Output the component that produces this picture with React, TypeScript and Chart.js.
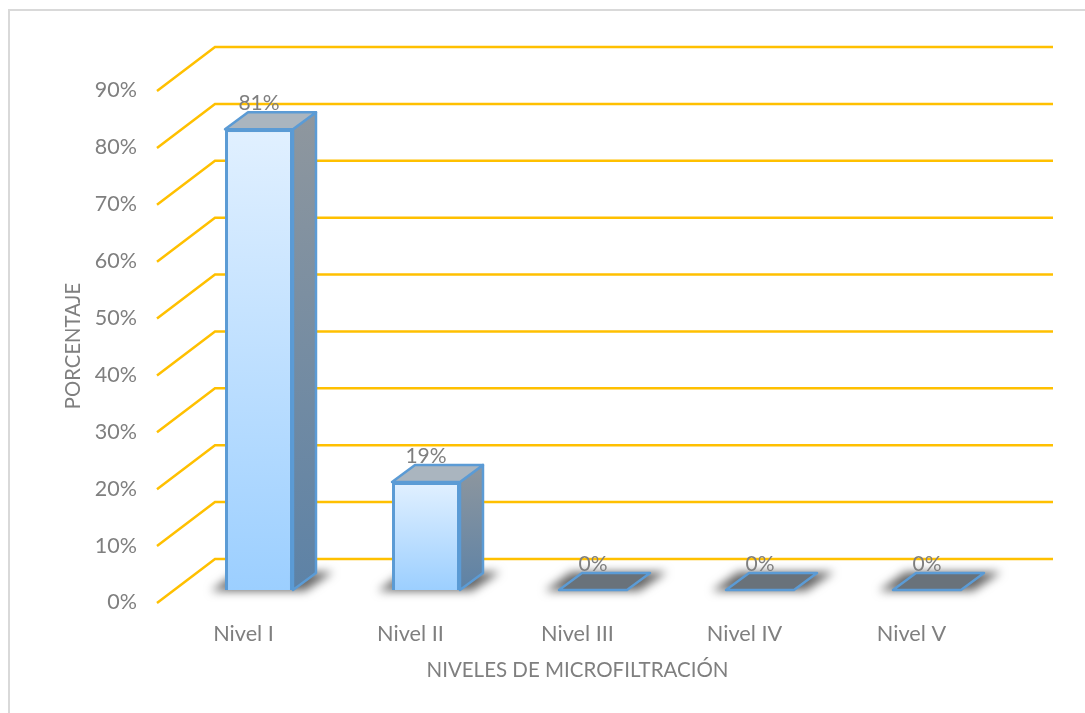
import React, { useEffect, useRef } from "react";
import { Chart, registerables } from "chart.js";

Chart.register(...registerables);

const categories = ["Nivel I", "Nivel II", "Nivel III", "Nivel IV", "Nivel V"];
const percentages = [81, 19, 0, 0, 0];
const xAxisTitle = "NIVELES DE MICROFILTRACIÓN";
const yAxisTitle = "PORCENTAJE";

const FONT = "Lato, Carlito, sans-serif";
const TEXT = "#7f7f7f";
const GRID = "#ffc000";
const EDGE = "#5b9bd5";
const WALL = { corner: 55, end: 58, dy: -43 };
const BAR_PLANE = { dx: 15.5, dy: -12 };
const BAR_DEPTH = { dx: 23, dy: -17 };

const perspective3D = {
  id: "perspective3D",
  beforeDatasetsDraw(chart: any) {
    const { ctx, chartArea, scales } = chart;
    const y = scales.y;
    // Wall and side-wall gridlines
    ctx.save();
    ctx.strokeStyle = GRID;
    ctx.lineWidth = 2.5;
    ctx.lineJoin = "miter";
    for (const tick of y.ticks) {
      const py = y.getPixelForValue(tick.value);
      ctx.beginPath();
      ctx.moveTo(chartArea.left - 3, py + 1);
      ctx.lineTo(chartArea.left + WALL.corner, py + WALL.dy);
      ctx.lineTo(chartArea.right + WALL.end, py + WALL.dy);
      ctx.stroke();
    }
    ctx.restore();
    // Soft floor shadows, one per bar
    const meta = chart.getDatasetMeta(0);
    const base = y.getPixelForValue(0) + BAR_PLANE.dy;
    meta.data.forEach((bar: any) => {
      const half = bar.width / 2;
      const cx = bar.x + BAR_PLANE.dx;
      const l = cx - half;
      const r = cx + half;
      ctx.save();
      ctx.shadowColor = "rgba(0,0,0,0.6)";
      ctx.shadowBlur = 10;
      ctx.shadowOffsetX = 2000;
      ctx.fillStyle = "#000";
      ctx.beginPath();
      ctx.moveTo(l - 14 - 2000, base + 1);
      ctx.lineTo(l + 12 - 2000, base - 18);
      ctx.lineTo(r + 40 - 2000, base - 18);
      ctx.lineTo(r + 12 - 2000, base + 1);
      ctx.closePath();
      ctx.fill();
      ctx.restore();
    });
    // Front faces sit forward of the wall by a fixed offset
    ctx.save();
    ctx.translate(BAR_PLANE.dx, BAR_PLANE.dy);
  },
  afterDatasetsDraw(chart: any) {
    const { ctx, scales } = chart;
    ctx.restore();
    const meta = chart.getDatasetMeta(0);
    const y = scales.y;
    const baseY = y.getPixelForValue(0) + BAR_PLANE.dy;
    meta.data.forEach((bar: any, i: number) => {
      const half = bar.width / 2;
      const cx = bar.x + BAR_PLANE.dx;
      const l = cx - half;
      const r = cx + half;
      const t = bar.y + BAR_PLANE.dy;
      const { dx, dy } = BAR_DEPTH;
      ctx.save();
      ctx.strokeStyle = EDGE;
      ctx.lineWidth = 2.5;
      ctx.lineJoin = "round";
      if (percentages[i] > 0) {
        const side = ctx.createLinearGradient(0, t + dy, 0, baseY);
        side.addColorStop(0, "#8f979e");
        side.addColorStop(1, "#5d82a6");
        ctx.fillStyle = side;
        ctx.beginPath();
        ctx.moveTo(r, t);
        ctx.lineTo(r + dx, t + dy);
        ctx.lineTo(r + dx, baseY + dy);
        ctx.lineTo(r, baseY);
        ctx.closePath();
        ctx.fill();
        ctx.stroke();
      }
      ctx.fillStyle = percentages[i] > 0 ? "#aab5bf" : "#69727a";
      ctx.beginPath();
      ctx.moveTo(l, t);
      ctx.lineTo(l + dx, t + dy);
      ctx.lineTo(r + dx, t + dy);
      ctx.lineTo(r, t);
      ctx.closePath();
      ctx.fill();
      ctx.stroke();
      // Value caption above the bar
      ctx.fillStyle = TEXT;
      ctx.font = `21px ${FONT}`;
      ctx.textAlign = "center";
      ctx.textBaseline = "middle";
      ctx.fillText(`${percentages[i]}%`, cx, t - 25.5);
      ctx.restore();
    });
  },
};

const frame = {
  id: "frame",
  beforeDraw(chart: any) {
    const { ctx } = chart;
    ctx.save();
    ctx.fillStyle = "#fff";
    ctx.fillRect(0, 0, chart.width, chart.height);
    ctx.strokeStyle = "#d9d9d9";
    ctx.lineWidth = 2;
    ctx.strokeRect(9, 10, chart.width + 20, chart.height + 20);
    ctx.restore();
  },
};

export default function App() {
  const ref = useRef<HTMLCanvasElement>(null);
  useEffect(() => {
    const chart = new Chart(ref.current!, {
      type: "bar",
      data: {
        labels: categories,
        datasets: [
          {
            data: percentages,
            barPercentage: 0.407,
            categoryPercentage: 1,
            borderColor: EDGE,
            borderWidth: (c: any) => (percentages[c.dataIndex] > 0 ? 3 : 0),
            backgroundColor: (c: any) => {
              const { chart: ch, dataIndex } = c;
              const sc = ch.scales?.y;
              const top = sc?.getPixelForValue(percentages[dataIndex]);
              const bottom = sc?.getPixelForValue(0);
              if (!Number.isFinite(top) || !Number.isFinite(bottom)) return "#bfdfff";
              const g = ch.ctx.createLinearGradient(0, top, 0, bottom);
              g.addColorStop(0, "#e1f0ff");
              g.addColorStop(1, "#9ccfff");
              return g;
            },
          },
        ],
      },
      options: {
        responsive: false,
        animation: false,
        devicePixelRatio: 1,
        layout: { padding: { left: 61, top: 90, right: 90, bottom: 30 } },
        plugins: { legend: { display: false }, tooltip: { enabled: false } },
        scales: {
          x: {
            grid: { display: false },
            border: { display: false },
            ticks: { color: TEXT, font: { family: FONT, size: 21.7 }, padding: 11, maxRotation: 0 },
            title: {
              display: true,
              text: xAxisTitle,
              color: TEXT,
              font: { family: FONT, size: 20.5 },
              padding: 0,
            },
            afterFit(s: any) {
              s.height = 81;
            },
          },
          y: {
            min: 0,
            max: 90,
            grid: { display: false },
            border: { display: false },
            ticks: {
              stepSize: 10,
              color: TEXT,
              font: { family: FONT, size: 21.5 },
              padding: 15,
              labelOffset: 0.5,
              callback: (v: any) => `${v}%`,
            },
            title: {
              display: true,
              text: yAxisTitle,
              color: TEXT,
              font: { family: FONT, size: 20.3 },
              padding: 0,
            },
            afterFit(s: any) {
              s.width = 99;
            },
          },
        },
      },
      plugins: [frame, perspective3D],
    } as any);
    return () => chart.destroy();
  }, []);
  return (
    <canvas
      ref={ref}
      width={1085}
      height={713}
      style={{ position: "fixed", left: 0, top: 0, display: "block" }}
    />
  );
}
